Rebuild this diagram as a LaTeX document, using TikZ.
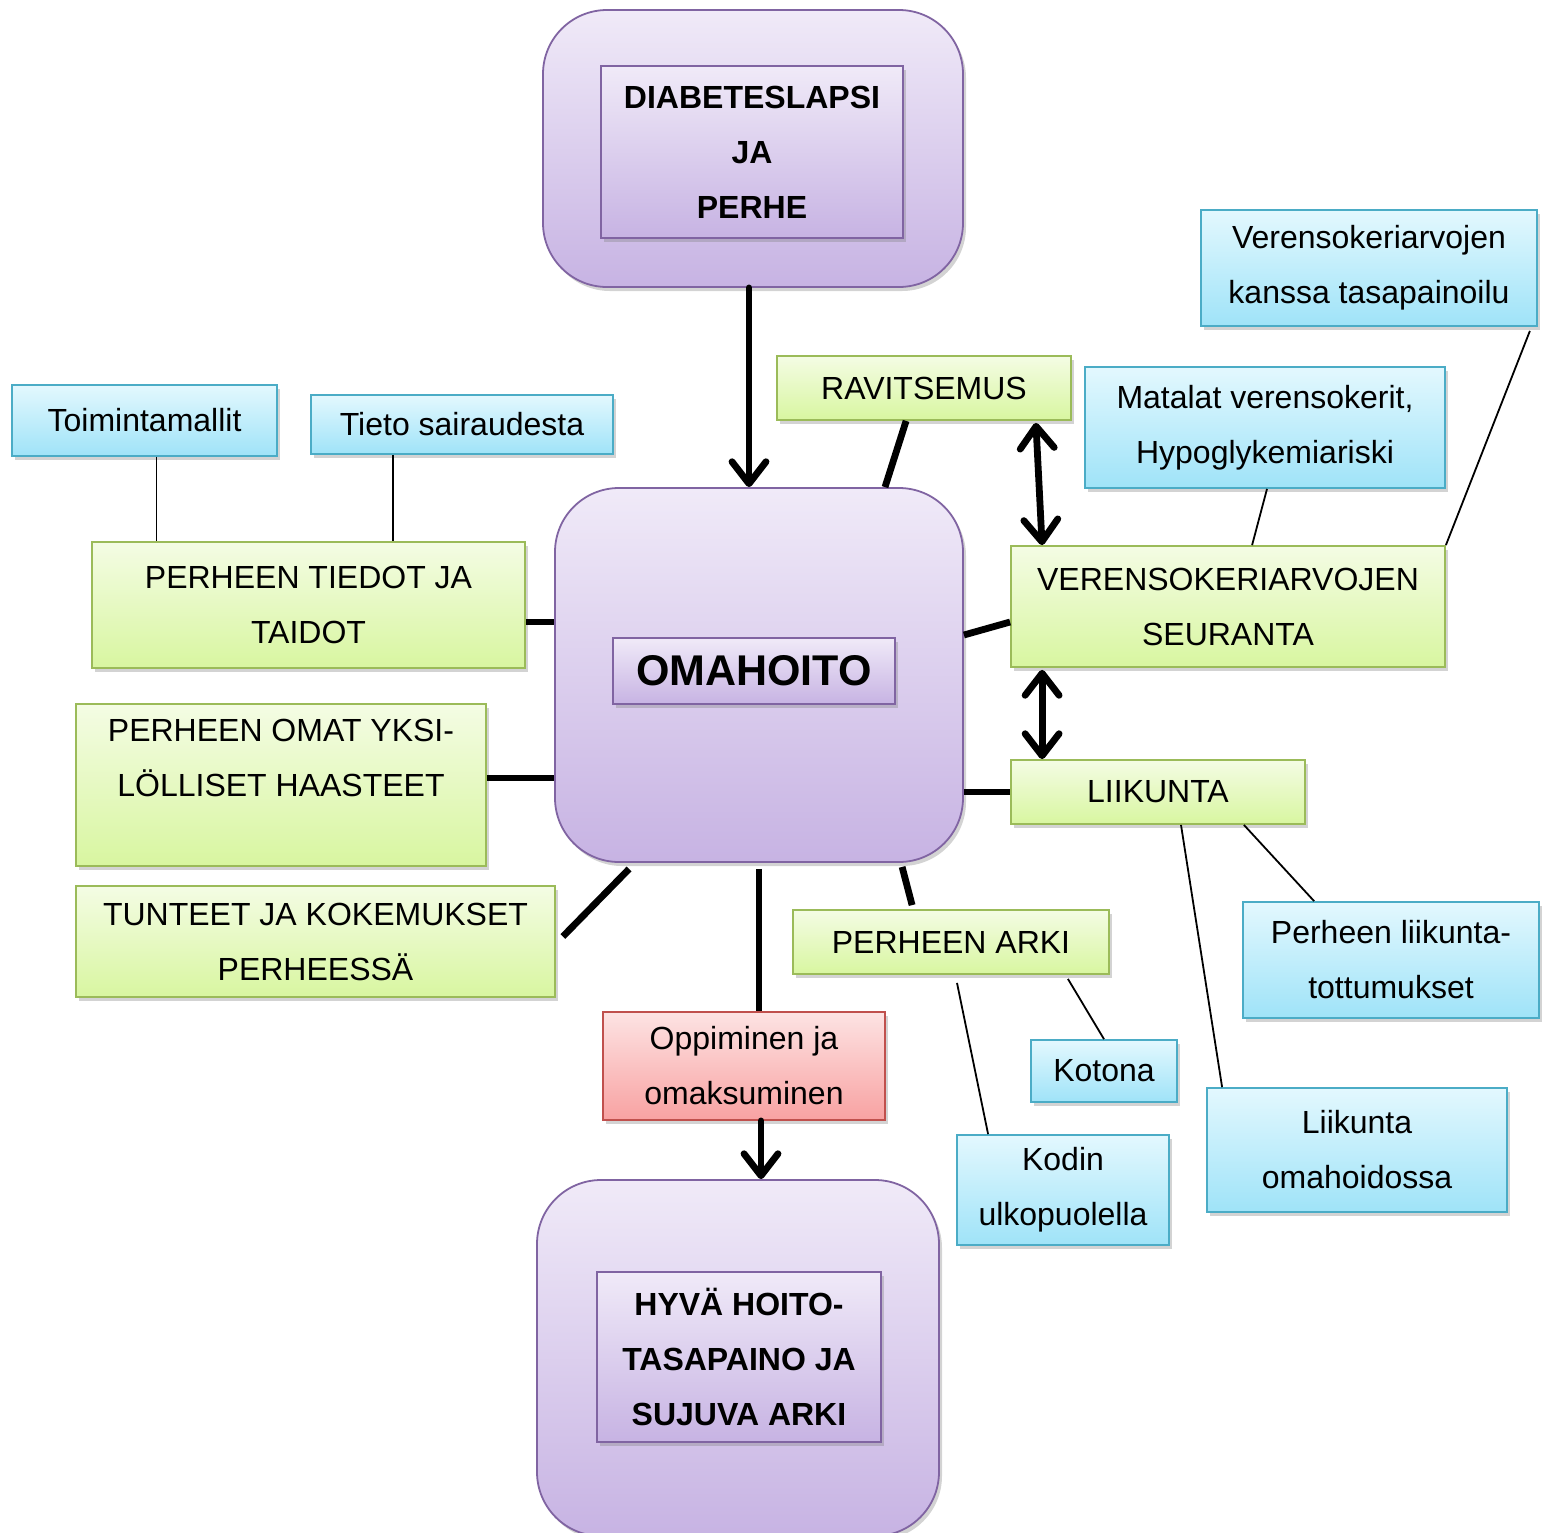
\documentclass[tikz,border=0pt]{standalone}
\usepackage{fontspec}
\setmainfont{Liberation Sans}
\usetikzlibrary{calc,shadows,arrows.meta}

\definecolor{grline}{HTML}{9BBB59}
\definecolor{grtop}{HTML}{F4FCE4}
\definecolor{grbot}{HTML}{D8F6A0}
\definecolor{blline}{HTML}{4BACC6}
\definecolor{bltop}{HTML}{E3F8FE}
\definecolor{blbot}{HTML}{9FE3F8}
\definecolor{puline}{HTML}{8064A2}
\definecolor{putop}{HTML}{F0EAF8}
\definecolor{pubot}{HTML}{C7B3E3}
\definecolor{reline}{HTML}{C0504D}
\definecolor{retop}{HTML}{FDE3E3}
\definecolor{rebot}{HTML}{F8A2A2}

\tikzset{
  box/.style={draw, line width=0.9pt, align=center, inner sep=0pt,
    font=\fontsize{16}{27.5}\selectfont,
    drop shadow={shadow xshift=1.5pt, shadow yshift=-2pt, opacity=0.35}},
  greenbox/.style={box, draw=grline, top color=grtop, bottom color=grbot},
  bluebox/.style={box, draw=blline, top color=bltop, bottom color=blbot},
  redbox/.style={box, draw=reline, top color=retop, bottom color=rebot},
  purplebox/.style={box, draw=puline, top color=putop, bottom color=pubot},
  bigbox/.style={purplebox, rounded corners=32pt},
  conn/.style={line width=3.4pt},
  thin/.style={line width=0.9pt},
  barb/.style={line width=3.4pt, line cap=round,
    arrows={-Straight Barb[length=11pt,width=17pt,line cap=round,line join=round]}},
  bibarb/.style={barb, arrows={Straight Barb[length=11pt,width=17pt,line cap=round,line join=round]-Straight Barb[length=11pt,width=17pt,line cap=round,line join=round]}}
}

\begin{document}
\begin{tikzpicture}[x=0.5pt,y=-0.5pt]
  \useasboundingbox (0,0) rectangle (1544,1533);

  % big purple blocks
  \node [bigbox, minimum width=210pt, minimum height=138.5pt] (top) at (753,148.5) {};
  \node [purplebox, minimum width=151pt, minimum height=86pt, font=\fontsize{16}{27.5}\selectfont\bfseries] (topin) at (752,152) {DIABETESLAPSI\\JA\\PERHE};

  \node [bigbox, minimum width=204pt, minimum height=187pt] (oma) at (759,675) {};
  \node [purplebox, minimum width=141pt, minimum height=33pt, font=\fontsize{21.5}{26}\selectfont\bfseries] (omain) at (754,671) {OMAHOITO};

  \node [bigbox, minimum width=201pt, minimum height=178pt] (bot) at (738,1358) {};
  \node [purplebox, minimum width=142pt, minimum height=85pt, font=\fontsize{16}{27.5}\selectfont\bfseries] (botin) at (739,1357) {HYVÄ HOITO-\\TASAPAINO JA\\SUJUVA ARKI};

  % green
  \node [greenbox, minimum width=147pt, minimum height=32pt] (rav) at (924,388) {RAVITSEMUS};
  \node [greenbox, minimum width=217pt, minimum height=60.5pt] (seuranta) at (1228,606.5) {VERENSOKERIARVOJEN\\SEURANTA};
  \node [greenbox, minimum width=147pt, minimum height=32pt] (liikunta) at (1158,792) {LIIKUNTA};
  \node [greenbox, minimum width=216.5pt, minimum height=63pt] (tiedot) at (308.5,605) {PERHEEN TIEDOT JA\\TAIDOT};
  \node [greenbox, minimum width=205pt, minimum height=81pt] (haasteet) at (281,785) {PERHEEN OMAT YKSI-\\LÖLLISET HAASTEET\\~};
  \node [greenbox, minimum width=239.5pt, minimum height=55.5pt] (tunteet) at (315.5,941.5) {TUNTEET JA KOKEMUKSET\\PERHEESSÄ};
  \node [greenbox, minimum width=158pt, minimum height=32pt] (arki) at (951,942) {PERHEEN ARKI};

  % blue
  \node [bluebox, minimum width=168pt, minimum height=58pt] (tasapaino) at (1369,268) {Verensokeriarvojen\\kanssa tasapainoilu};
  \node [bluebox, minimum width=180pt, minimum height=60.5pt] (matalat) at (1265,427.5) {Matalat verensokerit,\\Hypoglykemiariski};
  \node [bluebox, minimum width=132.5pt, minimum height=35.5pt] (toiminta) at (144.5,420.5) {Toimintamallit};
  \node [bluebox, minimum width=151pt, minimum height=29.5pt] (tieto) at (462,424.5) {Tieto sairaudesta};
  \node [bluebox, minimum width=73pt, minimum height=31pt] (kotona) at (1104,1071) {Kotona};
  \node [bluebox, minimum width=106pt, minimum height=55pt] (kodin) at (1063,1190) {Kodin\\ulkopuolella};
  \node [bluebox, minimum width=148pt, minimum height=58pt] (tottumukset) at (1391,960) {Perheen liikunta-\\tottumukset};
  \node [bluebox, minimum width=150pt, minimum height=62pt] (omahoidossa) at (1357,1150) {Liikunta\\omahoidossa};

  % red
  \node [redbox, minimum width=141pt, minimum height=54pt] (opp) at (744,1066) {Oppiminen ja\\omaksuminen};

  % thick connectors
  \draw [barb] ([xshift=-2pt]top.south) -- ([xshift=-2pt]top.south |- oma.north);
  \draw [conn] ($(rav.south west)+(130,0)$) -- ($(oma.north)+(126,0)$);
  \draw [bibarb] ($(rav.south east)+(-36,2)$) -- ($(seuranta.north west)+(32,0)$);
  \draw [conn] ($(oma.east)+(0,-40)$) -- ($(seuranta.west)+(0,15.5)$);
  \draw [bibarb] ($(seuranta.south west)+(32,2)$) -- ($(liikunta.north west)+(32,0)$);
  \draw [conn] (liikunta.west) -- (liikunta.west -| oma.east);
  \draw [conn] ([yshift=-8.5pt]tiedot.east) -- ([yshift=-8.5pt]tiedot.east -| oma.west);
  \draw [conn] ([yshift=3.5pt]haasteet.east) -- ([yshift=3.5pt]haasteet.east -| oma.west);
  \draw [conn] ($(tunteet.east)+(7,-5)$) -- ($(oma.south west)+(75,6)$);
  \draw [conn] ($(oma.south west)+(348,4)$) -- ($(arki.north west)+(120,-4)$);
  \draw [conn] ([shift={(0pt,-3pt)}]oma.south) -- (oma.south |- opp.north);
  \draw [barb] ([xshift=8.5pt]opp.south) -- ([xshift=8.5pt]opp.south |- bot.north);

  % thin connectors
  \draw [thin] ([xshift=6pt]toiminta.south) -- ([xshift=6pt]toiminta.south |- tiedot.north);
  \draw [thin] ([xshift=-34.5pt]tieto.south) -- ([xshift=-34.5pt]tieto.south |- tiedot.north);
  \draw [thin] ([xshift=1pt]matalat.south) -- ($(seuranta.north west)+(242,0)$);
  \draw [thin] ($(tasapaino.south east)+(-8,4)$) -- (seuranta.north east);
  \draw [thin] ($(liikunta.south east)+(-62,0)$) -- ($(tottumukset.north west)+(72,0)$);
  \draw [thin] ($(liikunta.south)+(23,0)$) -- ($(omahoidossa.north west)+(16,0)$);
  \draw [thin] ($(arki.south east)+(-42,4)$) -- (kotona.north);
  \draw [thin] ($(arki.south)+(6,8)$) -- ($(kodin.north west)+(32,0)$);
\end{tikzpicture}
\end{document}
